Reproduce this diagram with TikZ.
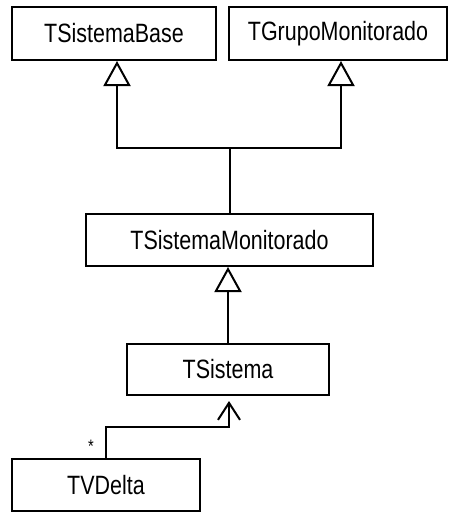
\documentclass[tikz,border=0pt]{standalone}
\usepackage{fontspec}
\setmainfont[FakeStretch=0.81]{Liberation Sans}
\usetikzlibrary{arrows.meta}
\begin{document}
\begin{tikzpicture}[x=1pt,y=-1pt,
  classbox/.style={draw, line width=2pt, fill=white, inner sep=0pt,
    font=\fontsize{26.5}{30}\selectfont},
  link/.style={line width=2pt},
  inherit/.style={link, -{Triangle[open, length=25pt, width=27pt, line width=2pt]}},
  assoc/.style={link, -{Straight Barb[length=17pt, width=22pt, line width=2pt]}, shorten >=5pt}]
\useasboundingbox (0,0) rectangle (452,512);
\fill[white] (0,0) rectangle (452,512);

% classes
\node[classbox, minimum width=204pt, minimum height=53pt] (base) at (114,33.5) {TSistemaBase};
\node[classbox, minimum width=218pt, minimum height=53pt] (grupo) at (338,33.5) {TGrupoMonitorado};
\node[classbox, minimum width=287pt, minimum height=52pt] (mon) at (229.5,240) {TSistemaMonitorado};
\node[classbox, minimum width=202pt, minimum height=51pt] (sis) at (228,369.5) {TSistema};
\node[classbox, minimum width=188pt, minimum height=52pt] (delta) at (106,485) {TVDelta};

% generalisations
\coordinate (join) at (mon.north |- 0,148);
\draw[link] (mon.north) -- (join);
\draw[inherit] (join) -| ([xshift=3pt]base.south);
\draw[inherit] (join) -| ([xshift=3pt]grupo.south);
\draw[inherit] (sis.north) -- (sis.north |- mon.south);

% association
\coordinate (bend) at (delta.north |- 0,427);
\draw[assoc] (delta.north) -- (bend) -| ([xshift=1pt]sis.south);
\node[font=\fontsize{18}{20}\selectfont, inner sep=0pt] (mult) at (91,446) {*};
\end{tikzpicture}
\end{document}
